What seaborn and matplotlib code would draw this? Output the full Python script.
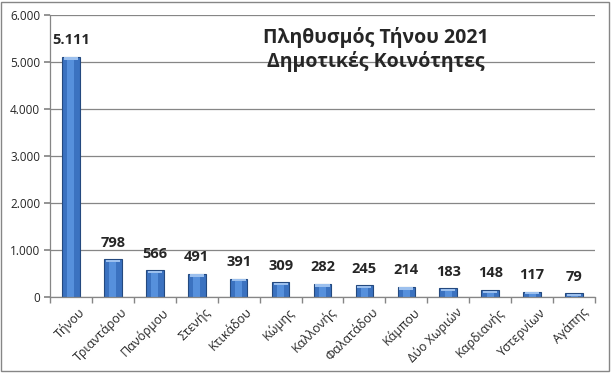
import matplotlib
matplotlib.use("Agg")
import matplotlib.pyplot as plt
import seaborn as sns
import pandas as pd
from matplotlib.ticker import FuncFormatter, FixedLocator
from matplotlib.patches import Rectangle

# Data: population of Tinos communities, 2021
communities = ["Τήνου", "Τριαντάρου", "Πανόρμου", "Στενής", "Κτικάδου", "Κώμης",
               "Καλλονής", "Φαλατάδου", "Κάμπου", "Δύο Χωριών", "Καρδιανής",
               "Υστερνίων", "Αγάπης"]
population = [5111, 798, 566, 491, 391, 309, 282, 245, 214, 183, 148, 117, 79]
y_ticks = [0, 1000, 2000, 3000, 4000, 5000, 6000]
title_lines = ["Πληθυσμός Τήνου 2021", "Δημοτικές Κοινότητες"]

sns.set_theme(style="white")
plt.rcParams["font.family"] = ["Open Sans", "DejaVu Sans"]

df = pd.DataFrame({"community": communities, "population": population})

def thousands(v, pos=None):
    return f"{int(v):,}".replace(",", ".")

fig = plt.figure(figsize=(6.12, 3.73), dpi=100)
ax = fig.add_axes([50 / 612, 1 - 297 / 373, 545 / 612, 282 / 373])

sns.barplot(data=df, x="community", y="population", color="#3b72c0",
            width=0.42, saturation=1, edgecolor="#24497f", linewidth=0.8, ax=ax)

# lighter centre stripe and bevelled top on each bar
for p in list(ax.patches):
    x0, w, h = p.get_x(), p.get_width(), p.get_height()
    ax.add_patch(Rectangle((x0 + w * 0.3, 0), w * 0.4, max(h - 60, 0),
                           color="#5690dc", lw=0, zorder=p.get_zorder() + 0.1))
    ax.add_patch(Rectangle((x0 + w * 0.1, h - 60), w * 0.8, 50,
                           color="#9cc0ee", lw=0, zorder=p.get_zorder() + 0.2))

ax.set_ylim(0, 6000)
ax.set_xlim(-0.5, len(communities) - 0.5)
ax.yaxis.set_major_locator(FixedLocator(y_ticks))
ax.yaxis.set_major_formatter(FuncFormatter(thousands))
ax.grid(axis="y", color="#868686", linewidth=0.9)
ax.set_axisbelow(True)
ax.set_xlabel("")
ax.set_ylabel("")

for s in ["top", "right"]:
    ax.spines[s].set_visible(False)
for s in ["left", "bottom"]:
    ax.spines[s].set_color("#868686")
    ax.spines[s].set_linewidth(0.9)

ax.tick_params(axis="y", length=4, color="#868686", direction="out", left=True,
               labelsize=8.5, pad=3)
ax.tick_params(axis="x", length=0, labelsize=9, pad=2)
# x ticks at category boundaries
ax.set_xticks([i - 0.5 for i in range(len(communities) + 1)], minor=True)
ax.tick_params(axis="x", which="minor", length=4, color="#868686", bottom=True)
ax.set_xticks(range(len(communities)))
ax.set_xticklabels(communities, rotation=45, ha="right", rotation_mode="anchor")
for lbl in ax.get_xticklabels():
    lbl.set_transform(lbl.get_transform() + matplotlib.transforms.ScaledTranslation(5 / 72, -4 / 72, fig.dpi_scale_trans))

for i, v in enumerate(population):
    ax.annotate(thousands(v), (i, v), xytext=(0, 7), textcoords="offset points",
                ha="center", va="bottom", fontsize=10.5, fontweight="bold")

fig.text(376 / 612, 1 - 37 / 373, title_lines[0], ha="center", va="center",
         fontsize=14, fontweight="bold")
fig.text(376 / 612, 1 - 62 / 373, title_lines[1], ha="center", va="center",
         fontsize=14, fontweight="bold")

fig.patches.append(Rectangle((1 / 612, 2 / 373), 608 / 612, 369 / 373,
                             transform=fig.transFigure, fill=False,
                             edgecolor="#868686", linewidth=1))

fig.savefig("out.png", dpi=100)
